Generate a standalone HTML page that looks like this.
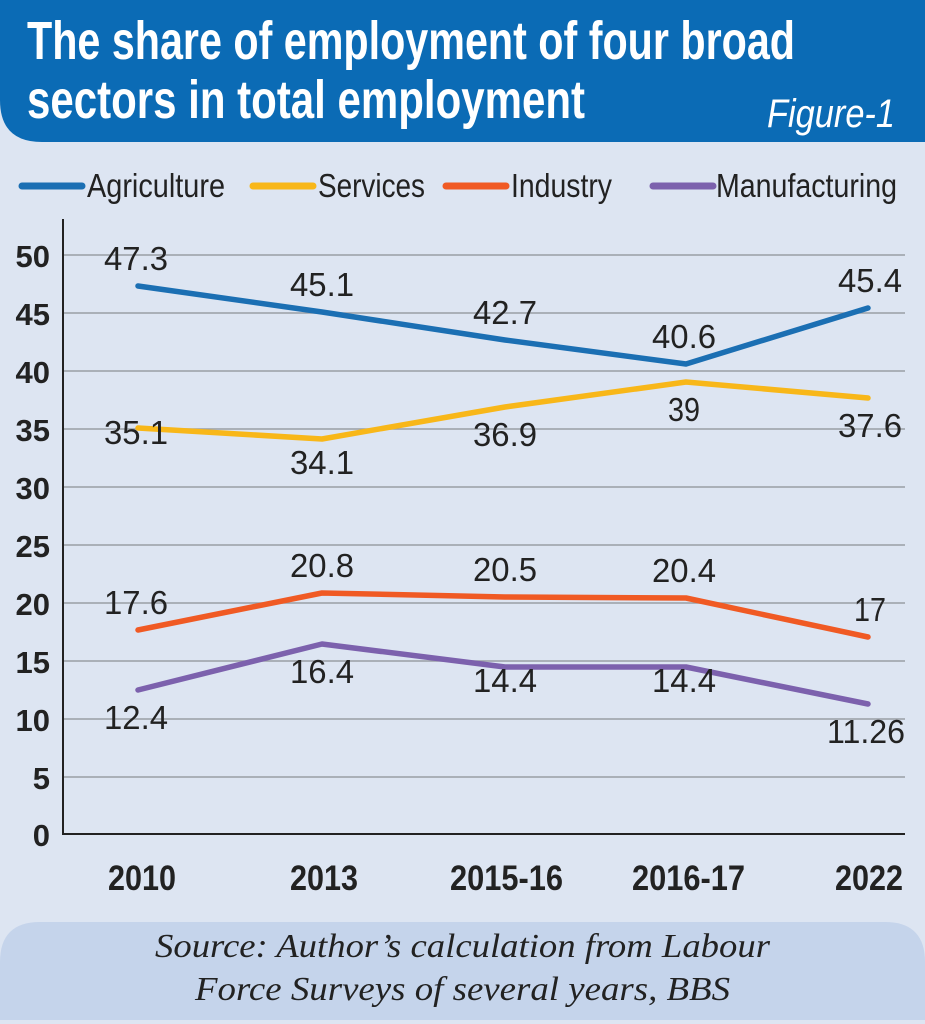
<!DOCTYPE html>
<html><head><meta charset="utf-8"><style>
body{margin:0;width:925px;height:1024px;overflow:hidden;background:#dde5f2;font-family:"Liberation Sans",sans-serif;}
</style></head><body>
<svg width="925" height="1024" xmlns="http://www.w3.org/2000/svg" style="position:absolute;left:0;top:0">
<rect x="0" y="0" width="925" height="1024" fill="#dde5f2"/>
<path d="M0 0 H925 V142 H42 Q0 142 0 100 Z" fill="#0b6bb5"/>
<g font-family="Liberation Sans, sans-serif" font-weight="bold" fill="#fff" font-size="54">
<text x="27" y="59" textLength="768" lengthAdjust="spacingAndGlyphs">The share of employment of four broad</text>
<text x="27" y="118" textLength="558" lengthAdjust="spacingAndGlyphs">sectors in total employment</text>
</g>
<text x="767" y="127" textLength="128" lengthAdjust="spacingAndGlyphs" font-family="Liberation Sans, sans-serif" font-style="italic" fill="#fff" font-size="40">Figure-1</text>
<path d="M0 962 Q0 922 40 922 H885 Q925 922 925 962 V1020 H0 Z" fill="#c5d4eb"/>
<g font-family="Liberation Serif, serif" font-style="italic" fill="#222" font-size="34">
<text x="155" y="957" textLength="615" lengthAdjust="spacingAndGlyphs">Source: Author’s calculation from Labour</text>
<text x="195" y="1000" textLength="535" lengthAdjust="spacingAndGlyphs">Force Surveys of several years, BBS</text>
</g>
<g stroke-width="7" stroke-linecap="round">
<line x1="22" y1="186" x2="82" y2="186" stroke="#1b6fb3"/>
<line x1="253" y1="186" x2="313" y2="186" stroke="#f8b719"/>
<line x1="446" y1="186" x2="506" y2="186" stroke="#f05a24"/>
<line x1="653" y1="186" x2="713" y2="186" stroke="#7c61ad"/>
</g>
<g font-size="33" fill="#222">
<text x="87" y="197" textLength="138" lengthAdjust="spacingAndGlyphs">Agriculture</text>
<text x="318" y="197" textLength="107" lengthAdjust="spacingAndGlyphs">Services</text>
<text x="511" y="197" textLength="101" lengthAdjust="spacingAndGlyphs">Industry</text>
<text x="716" y="197" textLength="181" lengthAdjust="spacingAndGlyphs">Manufacturing</text>
</g>
<g stroke="#9a9ea4" stroke-width="1.5">
<line x1="63" y1="255" x2="905" y2="255"/><line x1="63" y1="313" x2="905" y2="313"/>
<line x1="63" y1="371" x2="905" y2="371"/><line x1="63" y1="429" x2="905" y2="429"/>
<line x1="63" y1="487" x2="905" y2="487"/><line x1="63" y1="545" x2="905" y2="545"/>
<line x1="63" y1="603" x2="905" y2="603"/><line x1="63" y1="661" x2="905" y2="661"/>
<line x1="63" y1="719" x2="905" y2="719"/><line x1="63" y1="777" x2="905" y2="777"/>
</g>
<path d="M63 219 V834 H905" fill="none" stroke="#222" stroke-width="2"/>
<g font-weight="bold" font-size="31" fill="#222" text-anchor="end">
<text x="50" y="267">50</text><text x="50" y="325">45</text><text x="50" y="383">40</text>
<text x="50" y="441">35</text><text x="50" y="499">30</text><text x="50" y="557">25</text>
<text x="50" y="615">20</text><text x="50" y="673">15</text><text x="50" y="731">10</text>
<text x="50" y="789">5</text><text x="50" y="846">0</text>
</g>
<g font-weight="bold" font-size="35" fill="#222">
<text x="108" y="890" textLength="68" lengthAdjust="spacingAndGlyphs">2010</text>
<text x="290" y="890" textLength="68" lengthAdjust="spacingAndGlyphs">2013</text>
<text x="450" y="890" textLength="113" lengthAdjust="spacingAndGlyphs">2015-16</text>
<text x="632" y="890" textLength="113" lengthAdjust="spacingAndGlyphs">2016-17</text>
<text x="835" y="890" textLength="68" lengthAdjust="spacingAndGlyphs">2022</text>
</g>
<g fill="none" stroke-width="5.5" stroke-linecap="round" stroke-linejoin="round">
<polyline points="138,286 322,312 505,340 686,364 868,308" stroke="#1b6fb3"/>
<polyline points="138,428 322,439 505,407 686,382 868,398" stroke="#f8b719"/>
<polyline points="138,630 322,593 505,597 686,598 868,637" stroke="#f05a24"/>
<polyline points="138,690 322,644 505,667 686,667 868,704" stroke="#7c61ad"/>
</g>
<g font-size="33" fill="#222" text-anchor="middle">
<text x="136" y="270" textLength="64" lengthAdjust="spacingAndGlyphs">47.3</text><text x="322" y="296" textLength="64" lengthAdjust="spacingAndGlyphs">45.1</text><text x="505" y="324" textLength="64" lengthAdjust="spacingAndGlyphs">42.7</text><text x="684" y="348" textLength="64" lengthAdjust="spacingAndGlyphs">40.6</text><text x="870" y="292" textLength="64" lengthAdjust="spacingAndGlyphs">45.4</text>
<text x="136" y="444" textLength="64" lengthAdjust="spacingAndGlyphs">35.1</text><text x="322" y="474" textLength="64" lengthAdjust="spacingAndGlyphs">34.1</text><text x="505" y="446" textLength="64" lengthAdjust="spacingAndGlyphs">36.9</text><text x="684" y="421" textLength="32" lengthAdjust="spacingAndGlyphs">39</text><text x="870" y="437" textLength="64" lengthAdjust="spacingAndGlyphs">37.6</text>
<text x="136" y="614" textLength="64" lengthAdjust="spacingAndGlyphs">17.6</text><text x="322" y="577" textLength="64" lengthAdjust="spacingAndGlyphs">20.8</text><text x="505" y="581" textLength="64" lengthAdjust="spacingAndGlyphs">20.5</text><text x="684" y="582" textLength="64" lengthAdjust="spacingAndGlyphs">20.4</text><text x="870" y="621" textLength="32" lengthAdjust="spacingAndGlyphs">17</text>
<text x="136" y="729" textLength="64" lengthAdjust="spacingAndGlyphs">12.4</text><text x="322" y="683" textLength="64" lengthAdjust="spacingAndGlyphs">16.4</text><text x="505" y="692" textLength="64" lengthAdjust="spacingAndGlyphs">14.4</text><text x="684" y="692" textLength="64" lengthAdjust="spacingAndGlyphs">14.4</text><text x="866" y="743" textLength="78" lengthAdjust="spacingAndGlyphs">11.26</text>
</g>
</svg>
</body></html>
